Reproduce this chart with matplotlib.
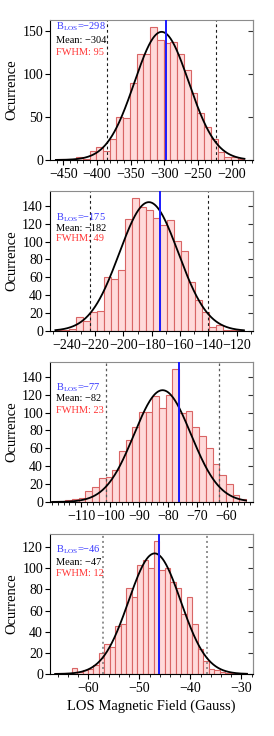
import numpy as np
import matplotlib
matplotlib.use('Agg')
import matplotlib.pyplot as plt
from matplotlib.ticker import MultipleLocator

plt.rcParams['font.family'] = ['Liberation Serif', 'DejaVu Serif']
plt.rcParams['mathtext.fontset'] = 'custom'
plt.rcParams['mathtext.rm'] = 'Liberation Serif'
plt.rcParams['axes.unicode_minus'] = True

# histogram counts per panel
counts1 = [1, 1, 1, 4, 1, 10, 15, 10, 24, 50, 49, 90, 123, 123, 155, 140, 136,
           137, 123, 105, 78, 55, 38, 25, 9, 4, 3, 1]
counts2 = [1, 1, 2, 16, 11, 21, 22, 60, 58, 68, 125, 149, 139, 135, 126, 119,
           124, 101, 89, 55, 35, 21, 5, 7, 1, 1, 1]
counts3 = [1, 1, 2, 3, 5, 12, 17, 27, 28, 36, 57, 69, 84, 101, 101, 119, 105,
           120, 149, 99, 102, 84, 74, 60, 42, 30, 20, 8, 3]
counts4 = [1, 1, 1, 6, 2, 4, 5, 9, 20, 28, 26, 45, 47, 81, 73, 103, 108, 100,
           126, 98, 100, 87, 81, 57, 73, 47, 24, 12, 5, 4, 2, 1, 1, 0, 1]
all_counts = [counts1, counts2, counts3, counts4]

# first bin edge and bin width (Gauss)
bin_start = [-461.0, -248.0, -120.0, -66.5]
bin_width = [10.0, 4.93, 2.3, 1.074]

# labels shown in each panel
blos_label = [-298, -175, -77, -46]
mean_label = [-304, -182, -82, -47]
fwhm_label = [95, 49, 23, 12]

# where the blue B_LOS line sits and peak of the fitted gaussian
blos_line = [-297.5, -174.0, -76.3, -46.1]
fit_peak = [149, 144, 125, 114]

# axis ranges and ticks
xlims = [(-469.7, -168.8), (-251.8, -108.7), (-120.7, -51.0), (-67.5, -27.8)]
xticks = [[-450, -400, -350, -300, -250, -200],
          [-240, -220, -200, -180, -160, -140, -120],
          [-110, -100, -90, -80, -70, -60],
          [-60, -50, -40, -30]]
xminor = [10, 10, 2, 2]
ymajor = [50, 20, 20, 20]


def neg(v):
    return ('\u2212' + str(abs(v))) if v < 0 else str(v)


fig = plt.figure(figsize=(2.74, 7.36), dpi=100)
bottoms = [0.7826, 0.5503, 0.3179, 0.0842]
text_y = [(0.95, 0.855, 0.77), (0.81, 0.733, 0.658), (0.816, 0.74, 0.657), (0.886, 0.80, 0.72)]
dash_styles = [('0.1', (0, (2.5, 2.5)), 0.8), ('0.1', (0, (2.5, 2.5)), 0.8),
               ('0.35', (0, (2.0, 2.2)), 0.9), ('0.45', (0, (1.3, 2.0)), 1.1)]

for i in range(4):
    ax = fig.add_axes([0.1825, bottoms[i], 0.7397, 0.1902])
    c = np.array(all_counts[i])
    edges = bin_start[i] + bin_width[i] * np.arange(len(c) + 1)
    ax.bar(edges[:-1], c, width=bin_width[i], align='edge', color='#ffdada',
           edgecolor='#d96565', linewidth=0.8, zorder=1)

    sig = fwhm_label[i] / (2 * np.sqrt(2 * np.log(2)))
    xs = np.linspace(edges[0], edges[-1], 400)
    ax.plot(xs, fit_peak[i] * np.exp(-0.5 * ((xs - mean_label[i]) / sig) ** 2),
            color='k', lw=1.3, zorder=3)

    dc, dls, dlw = dash_styles[i]
    for v in (mean_label[i] - 2 * sig, mean_label[i] + 2 * sig):
        ax.axvline(v, color=dc, ls=dls, lw=dlw, zorder=2)
    ax.axvline(blos_line[i], color='#1a1aff', lw=1.4, zorder=4)

    ax.set_xlim(*xlims[i])
    ax.set_ylim(0, 1.05 * c.max())
    ax.set_xticks(xticks[i])
    ax.xaxis.set_minor_locator(MultipleLocator(xminor[i]))
    ax.yaxis.set_major_locator(MultipleLocator(ymajor[i]))

    ax.tick_params(axis='y', direction='out', length=3.5, pad=1.5,
                   labelsize=10, right=False)
    ax.tick_params(axis='x', which='major', direction='out', length=3.5,
                   pad=2.5, labelsize=10, top=False)
    ax.tick_params(axis='x', which='minor', direction='out', length=2.2, top=False)
    for s in ('top', 'right'):
        ax.spines[s].set_color('0.55')
    sec = ax.secondary_yaxis('right')
    sec.yaxis.set_major_locator(MultipleLocator(ymajor[i]))
    sec.tick_params(direction='in', length=3.5, labelright=False, color='0.2')
    sec.spines['right'].set_color('0.55')

    ax.set_ylabel('Ocurrence', fontsize=10.5)
    ax.yaxis.set_label_coords(-0.158, 0.5)

    ty = text_y[i]
    ax.text(0.03, ty[0], r'B$_{\rm LOS}$=' + neg(blos_label[i]), transform=ax.transAxes,
            color='#3535ff', fontsize=7.5, ha='left', va='center', zorder=5)
    ax.text(0.03, ty[1], 'Mean: ' + neg(mean_label[i]), transform=ax.transAxes,
            color='k', fontsize=7.5, ha='left', va='center', zorder=5)
    ax.text(0.03, ty[2], 'FWHM: ' + str(fwhm_label[i]), transform=ax.transAxes,
            color='#ff3535', fontsize=7.5, ha='left', va='center', zorder=5)

    if i == 3:
        ax.set_xlabel('LOS Magnetic Field (Gauss)', fontsize=10.5)
        ax.xaxis.set_label_coords(0.5, -0.18)

fig.savefig('out.png', dpi=100)
